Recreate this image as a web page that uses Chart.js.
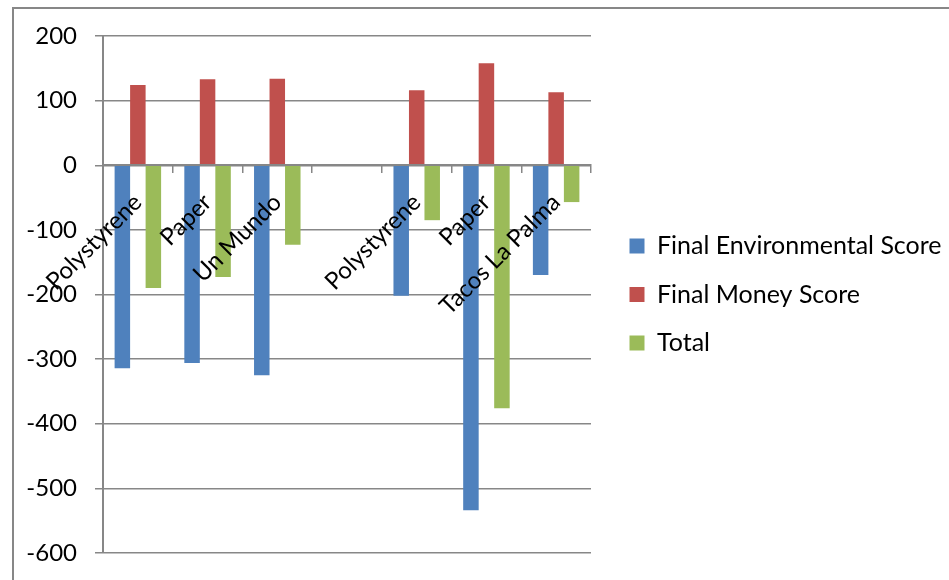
<!DOCTYPE html>
<html lang="en">
<head>
  <meta charset="UTF-8">
  <title>Scores by container</title>
  <script src="https://cdn.jsdelivr.net/npm/chart.js"></script>
  <style>
    html, body {
      margin: 0;
      padding: 0;
      background: #ffffff;
    }
    #wrap {
      position: relative;
      width: 949px;
      height: 580px;
    }
    /* frame around the chart, cut off at the right and bottom */
    #frame {
      position: absolute;
      left: 12px;
      top: 7px;
      right: 0;
      bottom: 0;
      border-left: 2px solid #878787;
      border-top: 2px solid #878787;
      pointer-events: none;
    }
  </style>
</head>
<body>
  <div id="wrap">
    <canvas id="chart" width="949" height="580"></canvas>
    <div id="frame"></div>
  </div>

  <script>
    const categories = ['Polystyrene', 'Paper', 'Un Mundo', '', 'Polystyrene', 'Paper', 'Tacos La Palma'];
    const envScore = [-314, -306, -325, null, -202, -534, -170];
    const moneyScore = [124, 133, 134, null, 116, 158, 113];
    const totalScore = [-190, -173, -123, null, -85, -376, -57];
    const yTicks = [200, 100, 0, -100, -200, -300, -400, -500, -600];

    const gridColor = '#878787';
    const fontFamily = 'Lato, "Open Sans", sans-serif';

    // legend: fixed width and items pushed a bit away from the plot
    const legendBox = {
      id: 'legendBox',
      beforeLayout(chart) {
        const lg = chart.legend;
        if (!lg || lg._fixed) return;
        const fit = lg.fit;
        lg.fit = function () {
          fit.call(this);
          this.width = 358;
        };
        lg._fixed = true;
      },
      afterLayout(chart) {
        chart.legend.left += 15;
        chart.legend.right += 15;
      }
    };

    new Chart(document.getElementById('chart'), {
      type: 'bar',
      data: {
        labels: categories,
        datasets: [
          { label: 'Final Environmental Score', data: envScore, backgroundColor: '#4F81BD' },
          { label: 'Final Money Score', data: moneyScore, backgroundColor: '#C0504D' },
          { label: 'Total', data: totalScore, backgroundColor: '#9BBB59' }
        ]
      },
      plugins: [legendBox],
      options: {
        responsive: false,
        animation: false,
        categoryPercentage: 0.667,
        barPercentage: 1,
        layout: { padding: { top: 36, bottom: 27, left: 0, right: 0 } },
        plugins: {
          tooltip: { enabled: false },
          legend: {
            position: 'right',
            labels: {
              boxWidth: 15,
              boxHeight: 15,
              padding: 23.5,
              color: '#000',
              font: { family: fontFamily, size: 25 }
            }
          }
        },
        scales: {
          x: {
            position: { y: 0 },
            grid: {
              offset: true,
              drawOnChartArea: false,
              drawTicks: true,
              tickLength: 7,
              color: gridColor,
              lineWidth: 1.5
            },
            border: { color: gridColor, width: 2, z: 1 },
            ticks: {
              z: 2,
              autoSkip: false,
              minRotation: 45,
              maxRotation: 45,
              padding: 16,
              color: '#000',
              font: { family: fontFamily, size: 24 }
            }
          },
          y: {
            min: -600,
            max: 200,
            afterFit(scale) {
              scale.width = 103;
              // only half a label of room is needed above and below
              scale.paddingTop = 15;
              scale.paddingBottom = 15;
            },
            afterBuildTicks(scale) { scale.ticks = yTicks.map(v => ({ value: v })); },
            grid: { color: gridColor, lineWidth: 1.5, tickLength: 8 },
            border: { color: gridColor, width: 2 },
            ticks: {
              padding: 18,
              color: '#000',
              font: { family: fontFamily, size: 24 }
            }
          }
        }
      }
    });
  </script>
</body>
</html>
